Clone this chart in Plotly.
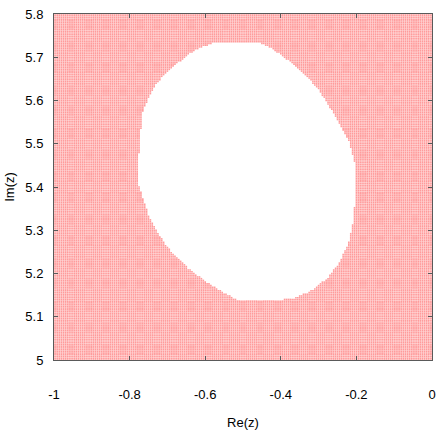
import numpy as np
import plotly.graph_objects as go

# Boundary of the empty (white) region (Re, Im)
boundary_re = [-0.565, -0.461, -0.427, -0.382, -0.338, -0.304, -0.270, -0.243, -0.217,
               -0.204, -0.204, -0.207, -0.220, -0.243, -0.277, -0.322, -0.364, -0.427,
               -0.513, -0.558, -0.599, -0.644, -0.678, -0.704, -0.730, -0.749, -0.762,
               -0.775, -0.780, -0.775, -0.767, -0.754, -0.736, -0.715, -0.688, -0.652,
               -0.626, -0.592]
boundary_im = [5.736, 5.736, 5.722, 5.694, 5.660, 5.630, 5.584, 5.545, 5.499,
               5.453, 5.366, 5.326, 5.274, 5.228, 5.189, 5.159, 5.143, 5.136,
               5.138, 5.159, 5.182, 5.211, 5.241, 5.264, 5.303, 5.333, 5.366,
               5.402, 5.441, 5.478, 5.568, 5.598, 5.630, 5.653, 5.676, 5.701,
               5.717, 5.729]

# Sampling mesh of the plotted region
re_grid = np.linspace(-1.0, 0.0, 201)
im_grid = np.linspace(5.0, 5.8, 201)

x_ticks = [-1, -0.8, -0.6, -0.4, -0.2, 0]
x_tick_text = ["-1", "-0.8", "-0.6", "-0.4", "-0.2", "0"]
y_ticks = [5, 5.1, 5.2, 5.3, 5.4, 5.5, 5.6, 5.7, 5.8]
y_tick_text = ["5", "5.1", "5.2", "5.3", "5.4", "5.5", "5.6", "5.7", "5.8"]


def inside(px, py, bx, by):
    bx = np.asarray(bx); by = np.asarray(by)
    res = np.zeros(px.shape, dtype=bool)
    n = len(bx)
    j = n - 1
    for i in range(n):
        xi, yi, xj, yj = bx[i], by[i], bx[j], by[j]
        cond = ((yi > py) != (yj > py))
        with np.errstate(divide="ignore", invalid="ignore"):
            xint = (xj - xi) * (py - yi) / (yj - yi) + xi
        res ^= cond & (px < xint)
        j = i
    return res


XX, YY = np.meshgrid(re_grid, im_grid)
XX = XX.ravel(); YY = YY.ravel()
mask = ~inside(XX, YY, boundary_re, boundary_im)

fig = go.Figure()
fig.add_trace(go.Scatter(
    x=XX[mask], y=YY[mask], mode="markers",
    marker=dict(symbol="square", size=1.6, color="rgb(255,155,155)", line=dict(width=0)),
    hoverinfo="skip", showlegend=False,
))

FONT = "Liberation Sans, Arial, sans-serif"
axis_common = dict(
    showline=True, mirror="ticks", linecolor="rgb(90,90,90)", linewidth=1,
    ticks="inside", ticklen=4, tickcolor="rgb(90,90,90)",
    showgrid=False, zeroline=False,
    tickfont=dict(family=FONT, size=13, color="black"),
)
fig.update_layout(
    width=442, height=434,
    margin=dict(l=54, r=6, t=14, b=72),
    paper_bgcolor="white", plot_bgcolor="white",
    xaxis=dict(range=[-1, 0], tickvals=x_ticks, ticktext=x_tick_text,
               ticklabelstandoff=22,
               title=dict(text="Re(z)", standoff=17,
                          font=dict(family=FONT, size=13, color="black")),
               **axis_common),
    yaxis=dict(range=[5, 5.8], tickvals=y_ticks, ticktext=y_tick_text,
               ticklabelstandoff=7,
               title=dict(text="Im(z)", standoff=7,
                          font=dict(family=FONT, size=13, color="black")),
               **axis_common),
)
fig.write_html("out.html")
